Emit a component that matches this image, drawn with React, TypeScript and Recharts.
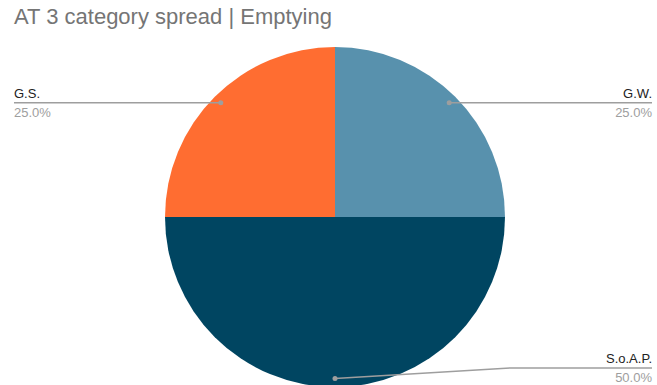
import React from 'react';
import { PieChart, Pie, Cell } from 'recharts';

const categories = ['G.W.', 'S.o.A.P.', 'G.S.'];
const values = [1, 2, 1];
const colors = ['#5891AD', '#004561', '#FF6D31'];

const W = 657;
const H = 385;
const RADIAN = Math.PI / 180;

const data = categories.map((name, i) => ({ name, value: values[i] }));

function renderLabel(props: any) {
  const { cx, cy, midAngle, outerRadius, percent, name } = props;
  const r = outerRadius * 0.95;
  const dx = cx + r * Math.cos(-midAngle * RADIAN);
  const dy = cy + r * Math.sin(-midAngle * RADIAN);
  const right = dx >= cx;
  const lineY = Math.min(dy, H - 17);
  const endX = right ? W - 5 : 14;
  const elbowX = lineY !== dy ? dx + 175 : dx;
  const pts =
    lineY !== dy
      ? `${dx},${dy} ${elbowX},${lineY} ${endX},${lineY}`
      : `${dx},${dy} ${endX},${lineY}`;
  return (
    <g>
      <polyline points={pts} fill="none" stroke="#9e9e9e" strokeWidth={1.5} />
      <circle cx={dx} cy={dy} r={2.5} fill="#9e9e9e" />
      <text
        x={endX}
        y={lineY - 5}
        textAnchor={right ? 'end' : 'start'}
        fontSize={13}
        fill="#222"
        fontFamily="'Liberation Sans', Arial, sans-serif"
      >
        {name}
      </text>
      <text
        x={endX}
        y={lineY + 14}
        textAnchor={right ? 'end' : 'start'}
        fontSize={13}
        fill="#9e9e9e"
        fontFamily="'Liberation Sans', Arial, sans-serif"
      >
        {(percent * 100).toFixed(1)}%
      </text>
    </g>
  );
}

export default function App() {
  return (
    <div style={{ position: 'absolute', left: 0, top: 0, width: W, height: H, background: '#fff', overflow: 'hidden' }}>
      <div
        style={{
          position: 'absolute',
          left: 14,
          top: 4,
          fontFamily: "'Liberation Sans', Arial, sans-serif",
          fontSize: 22,
          color: '#757575',
          whiteSpace: 'nowrap',
        }}
      >
        AT 3 category spread | Emptying
      </div>
      <PieChart width={W} height={H} margin={{ top: 0, right: 0, bottom: 0, left: 0 }} style={{ overflow: 'visible' }}>
        <Pie
          data={data}
          dataKey="value"
          nameKey="name"
          cx={335}
          cy={217}
          outerRadius={170}
          startAngle={90}
          endAngle={-270}
          stroke="none"
          label={renderLabel}
          labelLine={false}
          isAnimationActive={false}
        >
          {data.map((d, i) => (
            <Cell key={d.name} fill={colors[i]} />
          ))}
        </Pie>
      </PieChart>
    </div>
  );
}
